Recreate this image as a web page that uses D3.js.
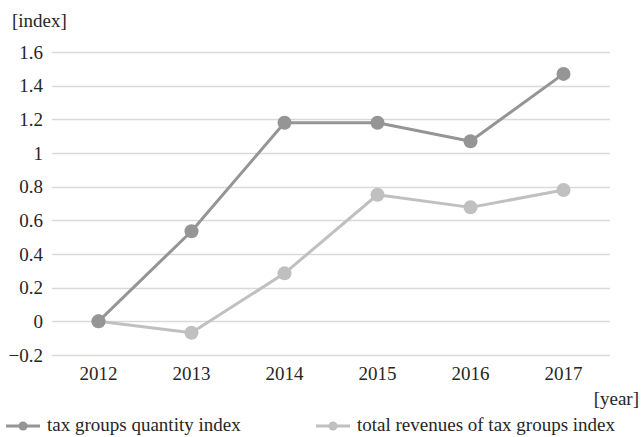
<!DOCTYPE html>
<html>
<head>
<meta charset="utf-8">
<script src="https://cdn.jsdelivr.net/npm/d3@7"></script>
<style>
  body { margin: 0; background: #fff; }
  svg text { font-family: 'Liberation Serif', 'DejaVu Serif', serif; }
</style>
</head>
<body>
<div id="chart"></div>
<script>
const years = ['2012', '2013', '2014', '2015', '2016', '2017'];
const quantityIndex = [0, 0.535, 1.18, 1.18, 1.07, 1.47];
const revenueIndex = [0, -0.068, 0.285, 0.752, 0.677, 0.78];
const yTicks = [-0.2, 0, 0.2, 0.4, 0.6, 0.8, 1, 1.2, 1.4, 1.6];
const seriesNames = ['tax groups quantity index', 'total revenues of tax groups index'];

const width = 642, height = 437;
const pad = {l: 52, r: 32, t: 52, b: 82};
const colors = ['#959595', '#c0c0c0'];
const fs = 19;
const ink = '#262626';

const svg = d3.select('#chart').append('svg')
  .attr('width', width).attr('height', height);

const x = d3.scaleBand()
  .domain(years)
  .range([pad.l, width - pad.r]);

const y = d3.scaleLinear()
  .domain([-0.2, 1.6])
  .range([height - pad.b, pad.t]);

// grid
svg.append('g')
  .selectAll('line')
  .data(yTicks)
  .join('line')
  .attr('x1', pad.l).attr('x2', width - pad.r)
  .attr('y1', d => Math.round(y(d)) + 0.5).attr('y2', d => Math.round(y(d)) + 0.5)
  .attr('stroke', '#d9d9d9').attr('stroke-width', 1.3);

// y axis labels
const fmt = d3.format('.1~f');
const axisY = d3.axisLeft(y).tickValues(yTicks).tickFormat(fmt).tickSize(0).tickPadding(9);
const gy = svg.append('g')
  .attr('transform', `translate(${pad.l}, 0)`)
  .call(axisY);
gy.select('.domain').remove();
gy.selectAll('text').attr('font-size', fs).attr('fill', ink);

// x axis labels
const axisX = d3.axisBottom(x).tickSize(0).tickPadding(12);
const gx = svg.append('g')
  .attr('transform', `translate(0, ${y(-0.2)})`)
  .call(axisX);
gx.select('.domain').remove();
gx.selectAll('text').attr('font-size', fs).attr('fill', ink);

// axis titles
svg.append('text')
  .attr('x', 12).attr('y', 27)
  .attr('font-size', fs).attr('fill', ink)
  .text('[index]');
svg.append('text')
  .attr('x', 639).attr('y', 405)
  .attr('text-anchor', 'end')
  .attr('font-size', fs).attr('fill', ink)
  .text('[year]');

// series
const cx = d => x(d) + x.bandwidth() / 2;
const line = d3.line().x((d, i) => cx(years[i])).y(d => y(d));

[revenueIndex, quantityIndex].forEach((vals) => {
  const col = vals === quantityIndex ? colors[0] : colors[1];
  svg.append('path')
    .datum(vals)
    .attr('fill', 'none')
    .attr('stroke', col)
    .attr('stroke-width', 3)
    .attr('stroke-linejoin', 'round')
    .attr('d', line);
  svg.append('g')
    .selectAll('circle')
    .data(vals)
    .join('circle')
    .attr('cx', (d, i) => cx(years[i]))
    .attr('cy', d => y(d))
    .attr('r', 7)
    .attr('fill', col);
});

// legend
const legendX = [6, 316];
seriesNames.forEach((name, i) => {
  const g = svg.append('g').attr('transform', `translate(${legendX[i]}, 426)`);
  g.append('line')
    .attr('x1', 0).attr('x2', 34)
    .attr('y1', 0).attr('y2', 0)
    .attr('stroke', colors[i]).attr('stroke-width', 3);
  g.append('circle').attr('cx', 17).attr('cy', 0).attr('r', 4.5).attr('fill', colors[i]);
  g.append('text')
    .attr('x', 41).attr('y', 5)
    .attr('font-size', fs).attr('fill', ink)
    .text(name);
});
</script>
</body>
</html>
